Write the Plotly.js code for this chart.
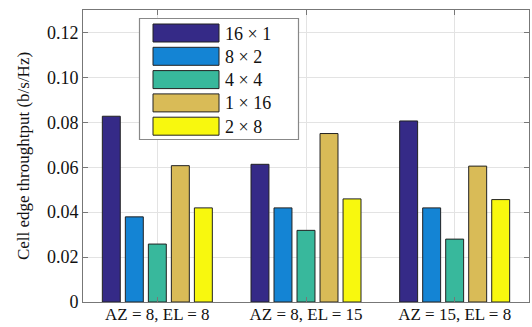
<!DOCTYPE html>
<html>
<head>
<meta charset="utf-8">
<script src="https://cdn.plot.ly/plotly-3.0.1.min.js"></script>
<style>html,body{margin:0;padding:0;background:#fff;}#chart{width:532px;height:327px;}</style>
</head>
<body>
<div id="chart"></div>
<script>
const categories = ["AZ = 8, EL = 8", "AZ = 8, EL = 15", "AZ = 15, EL = 8"];
const seriesNames = ["16 \u00d7 1", "8 \u00d7 2", "4 \u00d7 4", "1 \u00d7 16", "2 \u00d7 8"];
const s16x1 = [0.0827, 0.0613, 0.0806];
const s8x2  = [0.0379, 0.0419, 0.0419];
const s4x4  = [0.0258, 0.0319, 0.0280];
const s1x16 = [0.0607, 0.0750, 0.0605];
const s2x8  = [0.0419, 0.0459, 0.0456];
const yTickVals = [0, 0.02, 0.04, 0.06, 0.08, 0.10, 0.12];
const yTickText = ["0", "0.02", "0.04", "0.06", "0.08", "0.10", "0.12"];
const colors = ["#352a87", "#1484d4", "#38b89c", "#d9bb57", "#f8f80e"];

const seriesValues = [s16x1, s8x2, s4x4, s1x16, s2x8];
const FONT = "Liberation Serif, Times New Roman, serif";

const traces = seriesValues.map((vals, i) => ({
  type: "bar",
  x: categories,
  y: vals,
  name: seriesNames[i],
  marker: {color: colors[i], line: {color: "#222", width: 1}},
  showlegend: false,
  hoverinfo: "skip"
}));

// plot area in pixels
const L = 83, R = 529, T = 10, B = 302, W = 532, H = 327;
const px = x => (x - L) / (R - L);
const py = y => (B - y) / (B - T);

const shapes = [];
const annotations = [];
// legend box
shapes.push({type: "rect", xref: "paper", yref: "paper", x0: px(139.5), x1: px(298.5), y0: py(139.5), y1: py(18.5),
  line: {color: "#888", width: 1.2}, fillcolor: "#fff", layer: "above"});
seriesNames.forEach((n, i) => {
  const top = 24 + i * 23.3;
  shapes.push({type: "rect", xref: "paper", yref: "paper", x0: px(153), x1: px(219), y0: py(top + 18), y1: py(top),
    line: {color: "#222", width: 1}, fillcolor: colors[i], layer: "above"});
  annotations.push({xref: "paper", yref: "paper", x: px(223), y: py(top + 9.5), xanchor: "left", yanchor: "middle",
    text: n, showarrow: false, font: {family: FONT, size: 18, color: "#111"}});
});

const layout = {
  width: W, height: H,
  margin: {l: L, r: W - R, t: T, b: H - B, pad: 0},
  paper_bgcolor: "#fff", plot_bgcolor: "#fff",
  font: {family: FONT, size: 18, color: "#111"},
  barmode: "group",
  bargap: 0.226,
  bargroupgap: 0.22,
  xaxis: {
    type: "category", range: [-0.5, 2.5],
    showgrid: true, gridcolor: "#e3e3e3", gridwidth: 1,
    showline: true, linecolor: "#777", linewidth: 1, mirror: "ticks",
    ticks: "inside", ticklen: 5, tickcolor: "#777",
    ticklabelstandoff: -3,
    tickfont: {family: FONT, size: 17, color: "#111"},
    fixedrange: true, zeroline: false
  },
  yaxis: {
    range: [0, 0.13],
    tickvals: yTickVals, ticktext: yTickText,
    showgrid: true, gridcolor: "#e3e3e3", gridwidth: 1,
    showline: true, linecolor: "#777", linewidth: 1, mirror: "ticks",
    ticks: "inside", ticklen: 5, tickcolor: "#777",
    tickfont: {family: FONT, size: 18, color: "#111"},
    title: {text: "Cell edge throughtput (b/s/Hz)", font: {family: FONT, size: 17, color: "#111"}, standoff: 12},
    zeroline: false, fixedrange: true
  },
  shapes: shapes,
  annotations: annotations,
  showlegend: false
};

Plotly.newPlot("chart", traces, layout, {displayModeBar: false, staticPlot: true});
</script>
</body>
</html>
